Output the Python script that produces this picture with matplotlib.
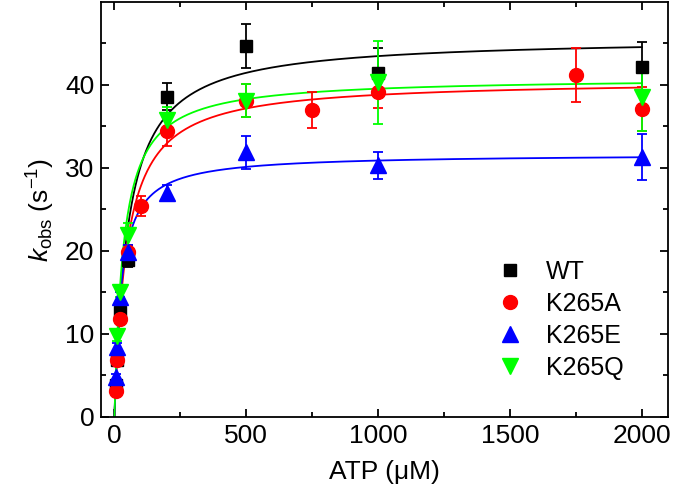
import numpy as np
import matplotlib.pyplot as plt

plt.rcParams['font.family'] = ['Liberation Sans', 'DejaVu Sans']
plt.rcParams['mathtext.fontset'] = 'custom'
plt.rcParams['mathtext.rm'] = 'Liberation Sans'
plt.rcParams['mathtext.it'] = 'Liberation Sans:italic'

# =========================
# DATA
# =========================
atp_wt = [5, 10, 20, 50, 200, 500, 1000, 2000]
kobs_wt = [3.9, 6.9, 12.7, 18.9, 38.6, 44.7, 41.5, 42.2]
err_wt = [0.5, 0.6, 0.6, 0.8, 1.6, 2.7, 3.0, 3.0]

atp_a = [5, 10, 20, 50, 100, 200, 500, 750, 1000, 1750, 2000]
kobs_a = [3.1, 6.9, 11.8, 19.9, 25.4, 34.5, 38.1, 37.0, 39.2, 41.2, 37.1]
err_a = [0.4, 0.6, 0.6, 0.8, 1.2, 1.8, 2.0, 2.2, 2.0, 3.3, 2.6]

atp_e = [5, 10, 20, 50, 200, 500, 1000, 2000]
kobs_e = [4.8, 8.4, 14.4, 19.9, 27.0, 31.9, 30.3, 31.3]
err_e = [0.4, 0.5, 0.6, 0.8, 1.0, 2.0, 1.6, 2.8]

atp_q = [10, 20, 50, 200, 500, 1000, 2000]
kobs_q = [9.7, 15.1, 21.9, 35.8, 38.1, 40.3, 38.5]
err_q = [0.6, 0.7, 1.5, 1.5, 2.0, 5.0, 4.1]

# hyperbolic fit parameters: kmax, K
fit_kmax = [45.7, 40.6, 31.7, 40.9]
fit_K = [51, 46, 26, 34]

labels = ['WT', 'K265A', 'K265E', 'K265Q']
colors = ['black', 'red', 'blue', '#00ff00']
markers = ['s', 'o', '^', 'v']
msizes = [9, 10, 11, 11]

# =========================
# PLOT
# =========================
fig = plt.figure(figsize=(6.75, 4.97), dpi=100)
ax = fig.add_axes([0.150, 0.161, 0.840, 0.835])

series = [(atp_wt, kobs_wt, err_wt), (atp_a, kobs_a, err_a),
          (atp_e, kobs_e, err_e), (atp_q, kobs_q, err_q)]

s = np.linspace(0, 2000, 800)
for i, (x, y, e) in enumerate(series):
    ax.plot(s, fit_kmax[i] * s / (fit_K[i] + s), color=colors[i], lw=1.3, zorder=2)
for i, (x, y, e) in enumerate(series):
    ax.errorbar(x, y, yerr=e, fmt=markers[i], color=colors[i], ms=msizes[i],
                capsize=3.5, elinewidth=1.3, capthick=1.3, label=labels[i],
                zorder=3)

ax.set_xlim(-50, 2100)
ax.set_ylim(0, 50)
ax.set_xticks([0, 500, 1000, 1500, 2000])
ax.set_xticks(np.arange(250, 2000, 500), minor=True)
ax.set_yticks([0, 10, 20, 30, 40])
ax.set_yticks(np.arange(5, 50, 10), minor=True)
ax.tick_params(which='both', direction='in', top=True, right=True,
               labelsize=19, width=1.3)
ax.tick_params(which='major', length=6, pad=5)
ax.tick_params(which='minor', length=3.5)
for sp in ax.spines.values():
    sp.set_linewidth(1.3)

ax.set_xlabel('ATP (\u03bcM)', fontsize=19, labelpad=9)
ax.set_ylabel(r'$k_{\rm obs}$ (s$^{-1}$)', fontsize=19, labelpad=6)

handles, labs = ax.get_legend_handles_labels()
handles = [h[0] for h in handles]
fig.legend(handles, labs, loc='upper left',
           bbox_to_anchor=(485 / 675, 1 - 260 / 497),
           frameon=False, fontsize=18, handletextpad=0.45, labelspacing=0.32,
           borderaxespad=0, borderpad=0)

plt.savefig('out.png', dpi=100)
